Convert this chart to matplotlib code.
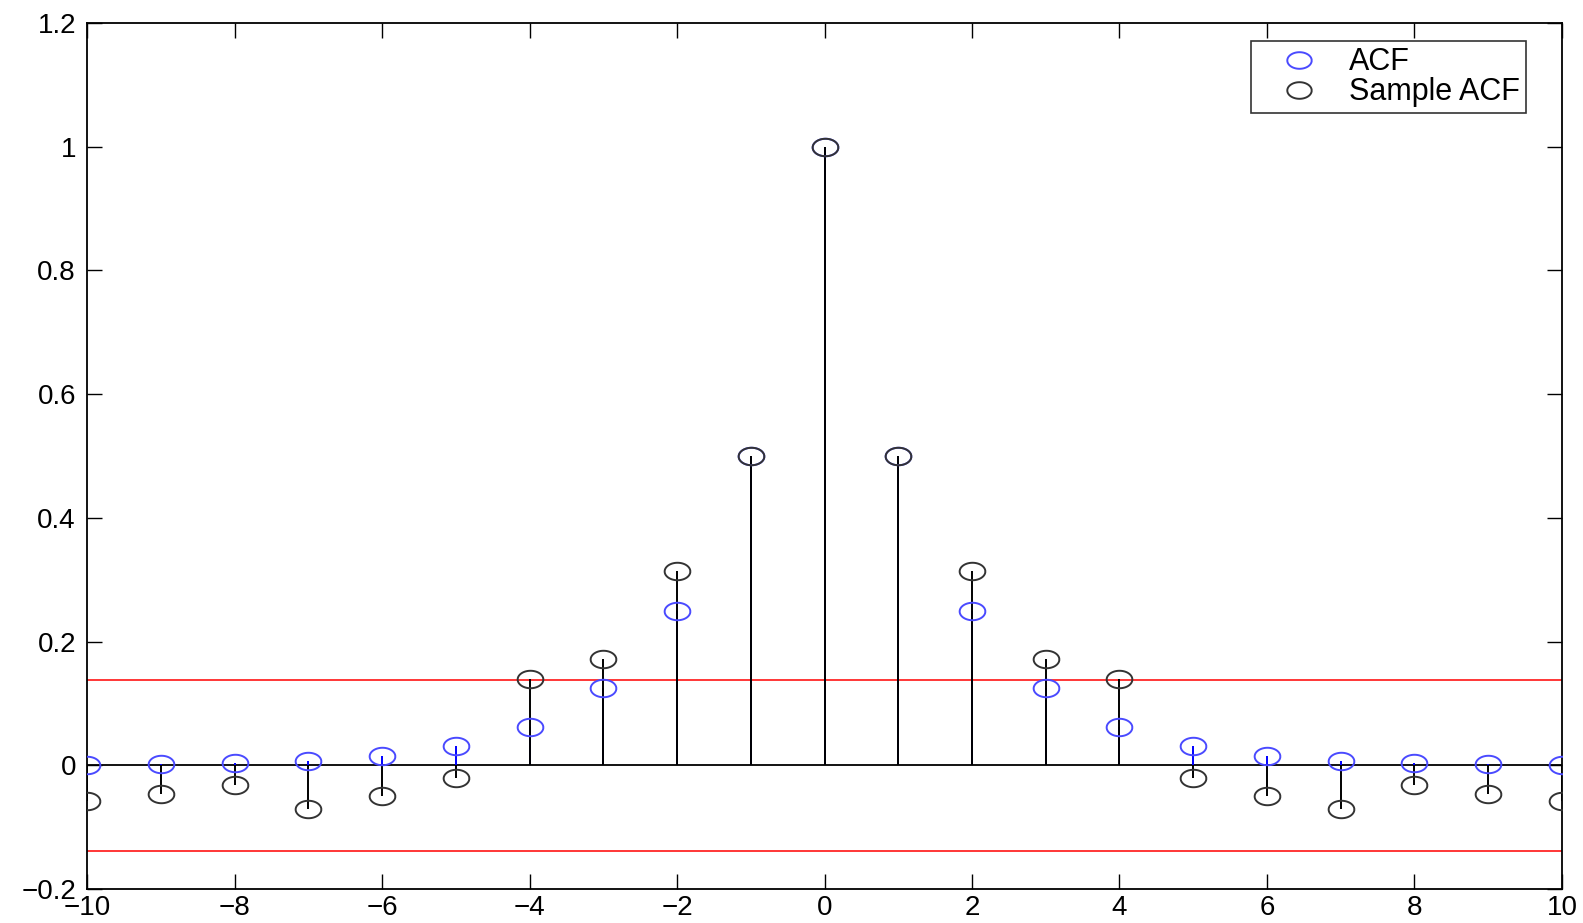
import numpy as np
import matplotlib
matplotlib.use("Agg")
import matplotlib.pyplot as plt
from matplotlib.path import Path

# lags and values
lags = np.arange(-10, 11)
acf = [0.00098, 0.00195, 0.0039, 0.0078, 0.0156, 0.03125, 0.0625, 0.125, 0.25, 0.5,
       1.0,
       0.5, 0.25, 0.125, 0.0625, 0.03125, 0.0156, 0.0078, 0.0039, 0.00195, 0.00098]
sample_acf = [-0.058, -0.046, -0.032, -0.071, -0.049, -0.020, 0.140, 0.172, 0.314, 0.5,
              1.0,
              0.5, 0.314, 0.172, 0.140, -0.020, -0.049, -0.071, -0.032, -0.046, -0.058]
bound = 0.138

xticks = np.arange(-10, 11, 2)
yticks = [-0.2, 0, 0.2, 0.4, 0.6, 0.8, 1.0, 1.2]
ytick_labels = ["\u22120.2", "0", "0.2", "0.4", "0.6", "0.8", "1", "1.2"]
xtick_labels = [("\u2212%d" % -t) if t < 0 else "%d" % t for t in xticks]

plt.rcParams['font.family'] = ['Liberation Sans', 'DejaVu Sans']

# flattened circle, like the squashed markers in the original
th = np.linspace(0, 2 * np.pi, 60)
ellipse = Path(np.column_stack([np.cos(th), 0.68 * np.sin(th)]))

fig = plt.figure(figsize=(15.83, 9.23), dpi=100)
ax = fig.add_axes([0.055, 0.0368, 0.9317, 0.9382])

# baseline and confidence bounds
ax.axhline(0, color='black', lw=1.3, zorder=1)
ax.axhline(bound, color='red', lw=1.1, zorder=1)
ax.axhline(-bound, color='red', lw=1.1, zorder=1)

# ACF stems (blue), then sample ACF stems (black) on top
ax.vlines(lags, 0, acf, color='blue', lw=1.4, zorder=2)
ax.plot(lags, acf, linestyle='none', marker=ellipse, markersize=18.5,
        markerfacecolor='none', markeredgecolor='#4a4aff', mew=1.4, zorder=4,
        label='ACF')
ax.vlines(lags, 0, sample_acf, color='black', lw=1.4, zorder=3)
ax.plot(lags, sample_acf, linestyle='none', marker=ellipse, markersize=18.5,
        markerfacecolor='none', markeredgecolor='#333333', mew=1.4, zorder=4,
        label='Sample ACF')

ax.set_xlim(-10, 10)
ax.set_ylim(-0.2, 1.2)
ax.set_xticks(xticks)
ax.set_xticklabels(xtick_labels)
ax.set_yticks(yticks)
ax.set_yticklabels(ytick_labels)
ax.tick_params(direction='in', length=11, width=1, top=True, right=True,
               labelsize=20)
ax.tick_params(axis='y', pad=8)
ax.tick_params(axis='x', pad=4)
for s in ax.spines.values():
    s.set_linewidth(1.3)

leg = ax.legend(loc='upper right', bbox_to_anchor=(0.9756, 0.979), borderaxespad=0,
                fontsize=22, frameon=True, fancybox=False, edgecolor='black',
                borderpad=0.2, handletextpad=0.3, labelspacing=0.0,
                handlelength=2.7, markerscale=0.95)
leg.get_frame().set_linewidth(1.2)

fig.savefig("out.png", dpi=100)
